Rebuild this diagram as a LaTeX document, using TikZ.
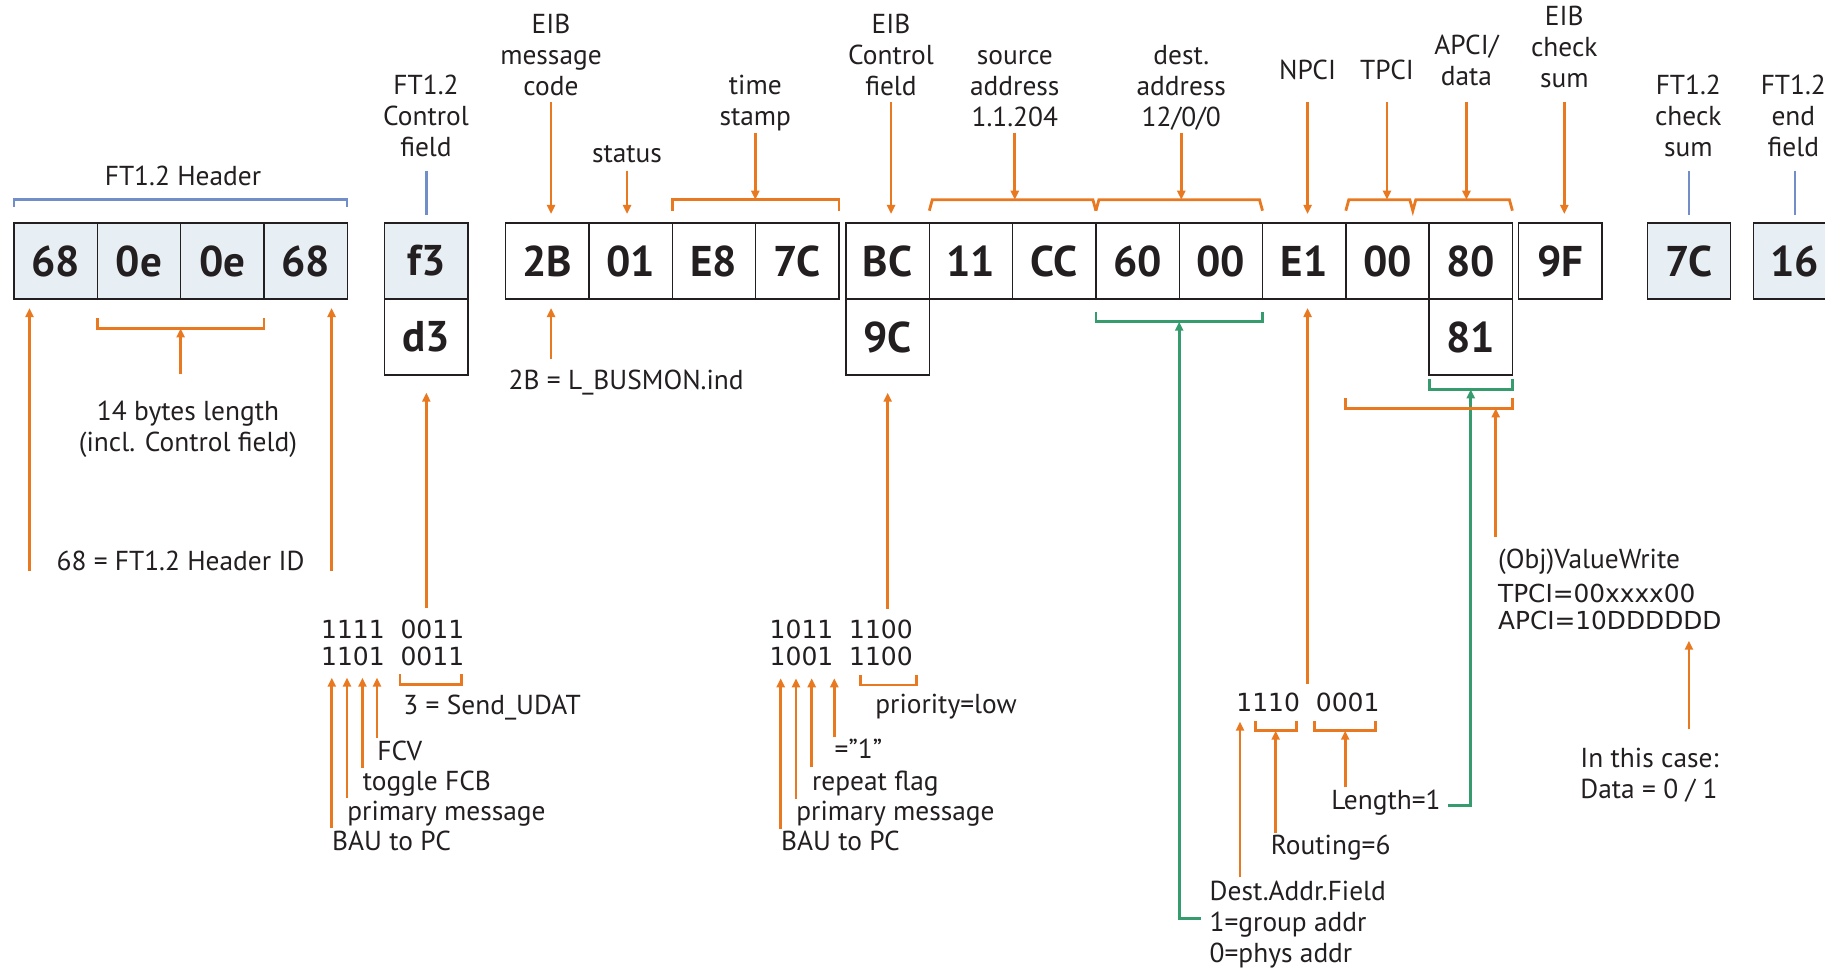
\documentclass[tikz,border=0pt]{standalone}
\usepackage{fontspec}
\setmainfont{PT Sans}
\newfontfamily\bitfont{DejaVu Sans}
\usepackage{xcolor}
\usetikzlibrary{arrows.meta, positioning}
\definecolor{eiborange}{RGB}{233,121,33}
\definecolor{eibgreen}{RGB}{54,155,109}
\definecolor{eibblue}{RGB}{114,142,201}
\definecolor{hdrfill}{RGB}{232,239,244}
\definecolor{ink}{RGB}{35,31,32}
\tikzstyle{arr} = [eiborange, line width=1.4pt, -{Triangle[length=4.5pt, width=4pt]}]
\tikzstyle{toarr} = [arr, shorten >=4.5pt]

\begin{document}
\begin{tikzpicture}[
        x=0.5pt, y=-0.5pt,
        byte/.style={rectangle, draw=ink, line width=0.7pt, fill=white,
            minimum width=41.65pt, minimum height=38pt, inner sep=0pt,
            outer sep=0pt, text=ink, font=\bfseries\fontsize{21.5}{24}\selectfont},
        hbyte/.style={byte, fill=hdrfill},
        lbl/.style={inner sep=0pt, align=center, anchor=base, text=ink,
            font=\fontsize{13.7}{15.5}\selectfont},
        note/.style={lbl, align=left, anchor=base west},
        bits/.style={note, font=\bitfont\fontsize{12.5}{13.7}\selectfont},
        obr/.style={eiborange, line width=1.4pt},
        gbr/.style={eibgreen, line width=1.4pt},
        garr/.style={gbr, -{Triangle[length=4.5pt, width=4pt]}},
        bline/.style={eibblue, line width=1.2pt}
    ]
    \useasboundingbox (0,0) rectangle (1825,968);

    \node (h68a)  [hbyte, anchor=west] at (14,261)    {68};
    \node (h0ea)  [hbyte, right=0pt of h68a]          {0e};
    \node (h0eb)  [hbyte, right=0pt of h0ea]          {0e};
    \node (h68b)  [hbyte, right=0pt of h0eb]          {68};
    \node (ctla)  [hbyte, anchor=west] at (384.7,261) {f3};
    \node (ctlb)  [byte,  below=0pt of ctla]          {d3};
    \node (mcode) [byte,  anchor=west] at (505.7,261) {2B};
    \node (stat)  [byte,  right=0pt of mcode]         {01};
    \node (tsa)   [byte,  right=0pt of stat]          {E8};
    \node (tsb)   [byte,  right=0pt of tsa]           {7C};
    \node (ectla) [byte,  anchor=west] at (846,261)   {BC};
    \node (ectlb) [byte,  below=0pt of ectla]         {9C};
    \node (srca)  [byte,  right=0pt of ectla]         {11};
    \node (srcb)  [byte,  right=0pt of srca]          {CC};
    \node (dsta)  [byte,  right=0pt of srcb]          {60};
    \node (dstb)  [byte,  right=0pt of dsta]          {00};
    \node (npci)  [byte,  right=0pt of dstb]          {E1};
    \node (tpci)  [byte,  right=0pt of npci]          {00};
    \node (apcia) [byte,  right=0pt of tpci]          {80};
    \node (apcib) [byte,  below=0pt of apcia]         {81};
    \node (ecs)   [byte,  anchor=west] at (1518.7,261) {9F};
    \node (ftcs)  [hbyte, anchor=west] at (1647.3,261) {7C};
    \node (ftend) [hbyte, anchor=west] at (1753.3,261) {16};

    \node (hdrl)   [lbl] at (183,186)      {FT1.2 Header};
    \node (ctll)   [lbl] at (426,156.5)    {FT1.2\\Control\\field};
    \node (mcl)    [lbl] at (551,95.3)     {EIB\\message\\code};
    \node (statl)  [lbl] at (627,162.7)    {status};
    \node (tsl)    [lbl] at (755.3,126)    {time\\stamp};
    \node (ectll)  [lbl] at (891,95.3)     {EIB\\Control\\field};
    \node (srcl)   [lbl] at (1014.8,127)   {source\\address\\1.1.204};
    \node (dstl)   [lbl] at (1181.3,127)   {dest.\\address\\12/0/0};
    \node (npcil)  [lbl] at (1307.6,80)    {NPCI};
    \node (tpcil)  [lbl] at (1387,80)      {TPCI};
    \node (apcil)  [lbl] at (1466.4,86)    {APCI/\\data};
    \node (ecsl)   [lbl] at (1564.3,88)    {EIB\\check\\sum};
    \node (ftcsl)  [lbl] at (1688.3,156.3) {FT1.2\\check\\sum};
    \node (ftendl) [lbl] at (1793.3,156.3) {FT1.2\\end\\field};

    \draw [bline] ([yshift=8pt]h68a.north west) -- ([yshift=11.65pt]h68a.north west)
        -- ([yshift=11.65pt]h68b.north east) -- ([yshift=8pt]h68b.north east);
    \draw [bline] (ctll.base -| ctla.north) ++(0,14.5) -- ([yshift=4pt]ctla.north);
    \draw [bline] (ftcsl.base -| ftcs.north) ++(0,14.7) -- ([yshift=4pt]ftcs.north);
    \draw [bline] (ftendl.base -| ftend.north) ++(0,14.7) -- ([yshift=4pt]ftend.north);

    \draw [obr] ([yshift=6.15pt]tsa.north west) -- ([yshift=11.65pt]tsa.north west)
        -- coordinate (tsbr) ([yshift=11.65pt]tsb.north east) -- ([yshift=6.15pt]tsb.north east);
    \draw [obr] ([yshift=6.15pt]srca.north west) -- ([xshift=1.5pt,yshift=11.65pt]srca.north west)
        -- coordinate (srcbr) ([xshift=-1.5pt,yshift=11.65pt]srcb.north east)
        -- ([yshift=6.15pt]srcb.north east);
    \draw [obr] ([yshift=6.15pt]dsta.north west) -- ([xshift=1.5pt,yshift=11.65pt]dsta.north west)
        -- coordinate (dstbr) ([xshift=-1.5pt,yshift=11.65pt]dstb.north east)
        -- ([yshift=6.15pt]dstb.north east);
    \draw [obr] ([yshift=6.15pt]tpci.north west) -- ([xshift=1.5pt,yshift=11.65pt]tpci.north west)
        -- coordinate (tpcibr) ([xshift=32pt,yshift=11.65pt]tpci.north west)
        -- ([xshift=33.5pt,yshift=6.15pt]tpci.north west)
        -- ([xshift=35pt,yshift=11.65pt]tpci.north west)
        -- coordinate (apcibr) ([xshift=-1.5pt,yshift=11.65pt]apcia.north east)
        -- ([yshift=6.15pt]apcia.north east);

    \draw [toarr] (mcl.base) ++(0,7) -- (mcl.base |- mcode.north);
    \draw [toarr] (statl.base) ++(0,8) -- (statl.base |- stat.north);
    \draw [arr] (tsl.base) ++(0,6.7) -- (tsl.base |- tsbr);
    \draw [toarr] (ectll.base) ++(0,7) -- (ectll.base |- ectla.north);
    \draw [arr] (srcl.base) ++(0,5.7) -- (srcl.base |- srcbr);
    \draw [arr] (dstl.base) ++(0,5.7) -- (dstl.base |- dstbr);
    \draw [toarr] (npcil.base) ++(0,22.3) -- (npcil.base |- npci.north);
    \draw [arr] (tpcil.base) ++(0,22.3) -- (tpcil.base |- tpcibr);
    \draw [arr] (apcil.base) ++(0,16.3) -- (apcil.base |- apcibr);
    \draw [toarr] (ecsl.base) ++(0,14.3) -- (ecsl.base |- ecs.north);

    \draw [obr] ([yshift=-9.5pt]h0ea.south west) -- ([yshift=-14.65pt]h0ea.south west)
        -- coordinate (lenbr) ([yshift=-14.65pt]h0eb.south east) -- ([yshift=-9.5pt]h0eb.south east);
    \node (lenl) [lbl] at (188,451)     {14 bytes length\\(incl. Control field)};
    \draw [arr] (lenl.base -| lenbr) ++(0,-76.7) -- (lenbr);
    \node (hidl) [lbl] at (180.5,570.7) {68 = FT1.2 Header ID};
    \draw [toarr] ([xshift=7.75pt]h68a.south west |- hidl.base) -- ([xshift=7.75pt]h68a.south west);
    \draw [toarr] ([xshift=-7.8pt]h68b.south east |- hidl.base) -- ([xshift=-7.8pt]h68b.south east);

    \node (ctlbits) [bits] at (320.7,665.7) {1111~~0011\\1101~~0011};
    \coordinate (ctltip) at ([yshift=-6pt]ctlbits.base);
    \draw [toarr, shorten >=8.85pt] (ctlbits.base -| ctlb.south) ++(0,-57.4) -- (ctlb.south);
    \node (fcvl)  [note] at (377,760)     {FCV};
    \node (fcbl)  [note] at (362.4,790)   {toggle FCB};
    \node (priml) [note] at (347,820.5)   {primary message};
    \node (baul)  [note] at (331.8,850)   {BAU to PC};
    \draw [arr] (fcvl.base west) ++(0,-22.5) -- (fcvl.base west |- ctltip);
    \draw [arr] (fcbl.base west) ++(0,-22.5) -- (fcbl.base west |- ctltip);
    \draw [arr] (priml.base west) ++(0,-22.5) -- (priml.base west |- ctltip);
    \draw [arr] (baul.base west) ++(0,-22.5) -- (baul.base west |- ctltip);
    \draw [obr] (400,674.3) -- (400,684.3) -- (461.2,684.3) -- (461.2,674.3);
    \node (udatl) [note] at (403,714)     {3 = Send\_UDAT};

    \node (mcodel) [lbl] at (626.2,389)   {2B = L\_BUSMON.ind};
    \draw [toarr] (mcodel.base -| mcl.base) ++(0,-29.7) -- (mcl.base |- mcode.south);

    \node (ectlbits) [bits] at (769.3,665.7) {1011~~1100\\1001~~1100};
    \coordinate (ectltip) at ([yshift=-6.3pt]ectlbits.base);
    \draw [toarr, shorten >=8.85pt] (ectlbits.base -| ectlb.south) ++(0,-57) -- (ectlb.south);
    \node (onel)  [note] at (834.3,758.3) {=\symbol{34}1\symbol{34}};
    \node (repl)  [note] at (811.7,790)   {repeat flag};
    \node (prim2l) [note] at (796,820)    {primary message};
    \node (bau2l) [note] at (780.7,850)   {BAU to PC};
    \draw [arr] (onel.base west) ++(0,-21) -- (onel.base west |- ectltip);
    \draw [arr] (repl.base west) ++(0,-22.7) -- (repl.base west |- ectltip);
    \draw [arr] (prim2l.base west) ++(0,-21) -- (prim2l.base west |- ectltip);
    \draw [arr] (bau2l.base west) ++(0,-21.3) -- (bau2l.base west |- ectltip);
    \draw [obr] (860.7,675) -- (860.7,685) -- (916.7,685) -- (916.7,675);
    \node (pril) [note] at (875,713.3)    {priority=low};

    \draw [gbr] ([yshift=-6.35pt]dsta.south west) -- ([yshift=-11.35pt]dsta.south west)
        -- coordinate (dstgbr) ([yshift=-11.35pt]dstb.south east) -- ([yshift=-6.35pt]dstb.south east);
    \node (dafl) [note] at (1209.3,962)   {Dest.Addr.Field\\1=group addr\\0=phys addr};
    \draw [garr] (dafl.base west) ++(-8.3,-43.7) -| (dstgbr);

    \node (npcibits) [bits] at (1236,711.7) {1110~~0001};
    \coordinate (npcitip) at ([yshift=-5pt]npcibits.base);
    \draw [toarr] (npcibits.base -| npcil.base) ++(0,-27.7) -- (npcil.base |- npci.south);
    \draw [arr] (npcibits.west |- dafl.base) ++(4,-84.7) -- ([xshift=2pt]npcibits.west |- npcitip);
    \draw [obr] (1255.2,721) -- (1255.2,730.7) -- coordinate (routbr) (1296.2,730.7) -- (1296.2,721);
    \draw [obr] (1314.6,721) -- (1314.6,730.7) -- coordinate (lenbr2) (1375.8,730.7) -- (1375.8,721);
    \node (routl) [note] at (1270.5,854)  {Routing=6};
    \node (lengl) [note] at (1331,809)    {Length=1};
    \draw [arr] (routl.base -| routbr) ++(0,-21.3) -- (routbr);
    \draw [arr] (lengl.base -| lenbr2) ++(0,-21.7) -- (lenbr2);

    \draw [gbr] ([yshift=-2.15pt]apcib.south west) -- ([yshift=-7.15pt]apcib.south west)
        -- coordinate (apcigbr) ([yshift=-7.15pt]apcib.south east) -- ([yshift=-2.15pt]apcib.south east);
    \draw [garr] (lengl.base east) ++(7,-3.3) -| (apcigbr);
    \draw [obr] ([yshift=-11.65pt]tpci.west |- apcib.south) -- ([yshift=-16.65pt]tpci.west |- apcib.south)
        -- coordinate[pos=.9] (tabr) ([yshift=-16.65pt]apcib.south east)
        -- ([yshift=-11.65pt]apcib.south east);
    \node (vwl) [note] at (1497.7,568.3)  {(Obj)ValueWrite};
    \draw [arr] (vwl.base -| tabr) ++(0,-31.6) -- (tabr);
    \node (tal) [note, font=\bitfont\fontsize{12.4}{13.35}\selectfont] at (1497.7,629)
        {TPCI=00xxxx00\\APCI=10DDDDDD};
    \node (casel) [note] at (1580,798.3)  {In this case:\\Data = 0 / 1};
    \draw [arr] (casel.base -| ftcs.south) ++(0,-69) -- ([yshift=-5.85pt]ftcs.south |- tal.base);
\end{tikzpicture}
\end{document}
